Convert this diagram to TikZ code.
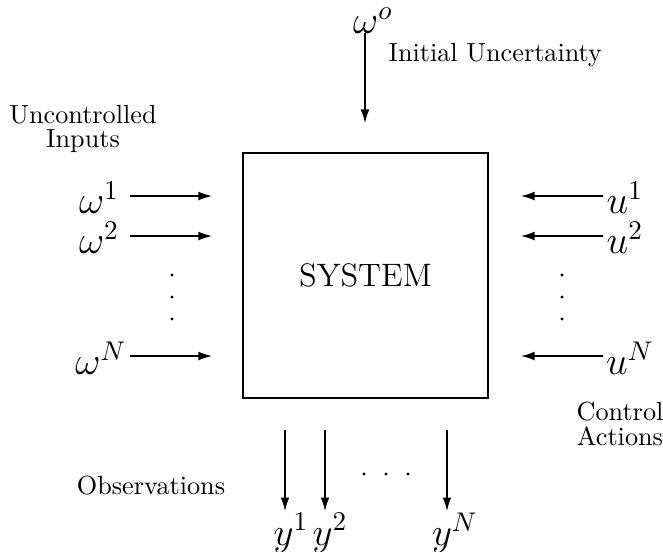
\documentclass[tikz,border=0pt]{standalone}
\usepackage{amsmath}
\usepackage{amssymb}
\usepackage{xcolor}
\usetikzlibrary{arrows.meta}
\tikzset{
  arr/.style={line width=0.5pt,-{Latex[length=5pt,width=3.2pt]}},
  var/.style={font=\Large,inner sep=0pt},
  note/.style={align=center,font=\fontsize{9.7}{9}\selectfont,inner sep=0pt},
  sysbox/.style={draw,line width=0.6pt,minimum width=90.6pt,minimum height=90.6pt,inner sep=0pt,font=\large}
}
\begin{document}
\begin{tikzpicture}[x=0.37pt,y=-0.37pt]
\useasboundingbox (0,0) rectangle (663,551);
\node[sysbox] (sys) at (365.5,275.5) {SYSTEM};
% initial uncertainty
\node[var] (w0) at (373,21) {$\omega^o$};
\coordinate (w0a) at (365,33);
\coordinate (w0b) at (365,123);
\draw[arr] (w0a) -- (w0b);
\node[note,anchor=west] (init) at (388,55) {Initial Uncertainty};
% uncontrolled inputs
\node[note] (unc) at (83,129) {Uncontrolled\\Inputs};
\node[var] (w1) at (99,198) {$\omega^1$};
\node[var] (w2) at (99,238) {$\omega^2$};
\node[var] (wN) at (101,358) {$\omega^N$};
\coordinate (w1a) at (130,196); \coordinate (w1b) at (212,196);
\coordinate (w2a) at (130,236); \coordinate (w2b) at (212,236);
\coordinate (wNa) at (130,356); \coordinate (wNb) at (212,356);
\draw[arr] (w1a) -- (w1b);
\draw[arr] (w2a) -- (w2b);
\draw[arr] (wNa) -- (wNb);
\fill (172,275) circle (0.6pt) (172,297) circle (0.6pt) (172,319) circle (0.6pt);
% control actions
\node[var] (u1) at (625,198) {$u^1$};
\node[var] (u2) at (625,238) {$u^2$};
\node[var] (uN) at (630,358) {$u^N$};
\coordinate (u1a) at (603,196); \coordinate (u1b) at (521,196);
\coordinate (u2a) at (603,236); \coordinate (u2b) at (521,236);
\coordinate (uNa) at (603,356); \coordinate (uNb) at (521,356);
\draw[arr] (u1a) -- (u1b);
\draw[arr] (u2a) -- (u2b);
\draw[arr] (uNa) -- (uNb);
\fill (562,275) circle (0.6pt) (562,297) circle (0.6pt) (562,319) circle (0.6pt);
\node[note] (ctl) at (620,424) {Control\\Actions};
% observations
\node[note] (obs) at (151,486) {Observations};
\coordinate (y1a) at (285,430); \coordinate (y1b) at (285,511);
\coordinate (y2a) at (325,430); \coordinate (y2b) at (325,511);
\coordinate (yNa) at (447,430); \coordinate (yNb) at (447,511);
\draw[arr] (y1a) -- (y1b);
\draw[arr] (y2a) -- (y2b);
\draw[arr] (yNa) -- (yNb);
\node[var] (y1) at (291,533) {$y^1$};
\node[var] (y2) at (330,533) {$y^2$};
\node[var] (yN) at (455,533) {$y^N$};
\fill (364,474) circle (0.6pt) (386,474) circle (0.6pt) (408,474) circle (0.6pt);
\end{tikzpicture}
\end{document}
